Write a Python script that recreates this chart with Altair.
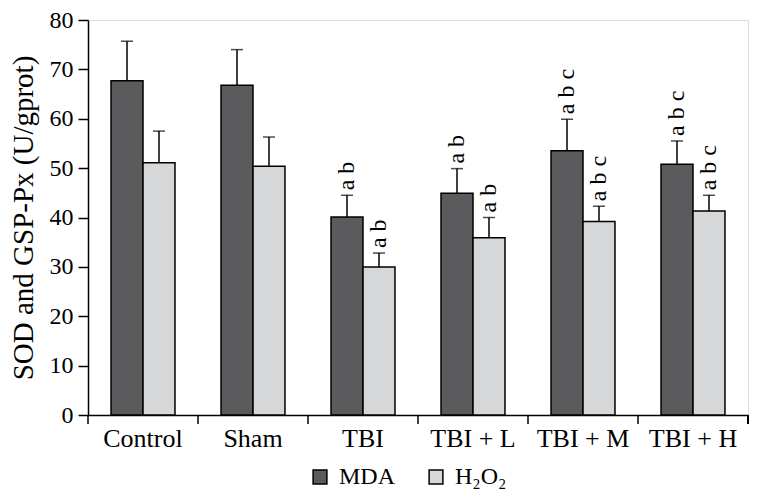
import altair as alt
import pandas as pd

groups = ["Control", "Sham", "TBI", "TBI + L", "TBI + M", "TBI + H"]
series = ["MDA", "H₂O₂"]
mda = [67.7, 66.8, 40.1, 44.9, 53.5, 50.8]
mda_err = [8.0, 7.2, 4.4, 5.0, 6.4, 4.7]
h2o2 = [51.1, 50.4, 30.0, 35.9, 39.2, 41.3]
h2o2_err = [6.4, 5.9, 2.8, 4.1, 3.1, 3.2]
mda_sig = ["", "", "a b", "a b", "a b c", "a b c"]
h2o2_sig = ["", "", "a b", "a b", "a b c", "a b c"]
colors = ["#5b5b5d", "#d6d7d9"]

rows = []
for i, g in enumerate(groups):
    rows.append({"group": g, "series": series[0], "value": mda[i], "hi": mda[i] + mda_err[i], "sig": mda_sig[i]})
    rows.append({"group": g, "series": series[1], "value": h2o2[i], "hi": h2o2[i] + h2o2_err[i], "sig": h2o2_sig[i]})
df = pd.DataFrame(rows)
tick_df = pd.DataFrame({"group": groups})

W, H = 660, 395
FONT = "Liberation Serif"
TITLE = "SOD and GSP-Px (U/gprot)"

xscale = alt.Scale(domain=groups, paddingInner=0, paddingOuter=0)
xoff = alt.XOffset("series:N", sort=series, scale=alt.Scale(domain=series, paddingInner=0, paddingOuter=0.72))
yscale = alt.Scale(domain=[0, 80], nice=False)
yaxis = alt.Axis(values=list(range(0, 81, 10)), grid=False, tickSize=10, tickWidth=1.5,
                 tickColor="black", domainColor="black", domainWidth=1.5,
                 labelFont=FONT, labelFontSize=24, labelColor="black", labelPadding=5,
                 titleFont=FONT, titleFontSize=29, titleFontWeight="normal", titleColor="black",
                 titlePadding=11)
xaxis = alt.Axis(title=None, labelAngle=0, ticks=False, domainColor="black", domainWidth=1.5,
                 labelFont=FONT, labelFontSize=26, labelColor="black", labelPadding=10, grid=False)

base = alt.Chart(df)

bars = base.mark_bar(stroke="black", strokeWidth=1.5).encode(
    x=alt.X("group:N", sort=groups, scale=xscale, axis=xaxis),
    xOffset=xoff,
    y=alt.Y("value:Q", scale=yscale, axis=yaxis, title=TITLE),
    fill=alt.Fill("series:N", sort=series, scale=alt.Scale(domain=series, range=colors),
                  legend=alt.Legend(title=None, orient="none", legendX=220, legendY=445,
                                    direction="horizontal", symbolType="square", symbolSize=190,
                                    symbolStrokeColor="black", symbolStrokeWidth=1.5,
                                    labelFont=FONT, labelFontSize=24, labelColor="black",
                                    labelOffset=7, columnPadding=28)),
)

err = base.mark_rule(color="black", strokeWidth=1.5).encode(
    x=alt.X("group:N", sort=groups, scale=xscale, axis=xaxis),
    xOffset=xoff,
    y=alt.Y("value:Q", scale=yscale, axis=yaxis, title=TITLE),
    y2="hi:Q",
)

caps = base.mark_tick(color="black", thickness=1.5, size=12).encode(
    x=alt.X("group:N", sort=groups, scale=xscale, axis=xaxis),
    xOffset=xoff,
    y=alt.Y("hi:Q", scale=yscale, axis=yaxis, title=TITLE),
)

letters = base.mark_text(angle=270, align="left", baseline="middle", dx=5,
                         font=FONT, fontSize=24, color="black").encode(
    x=alt.X("group:N", sort=groups, scale=xscale, axis=xaxis),
    xOffset=xoff,
    y=alt.Y("hi:Q", scale=yscale, axis=yaxis, title=TITLE),
    text="sig:N",
)

xticks = alt.Chart(tick_df).mark_rule(color="black", strokeWidth=1.5).encode(
    x=alt.X("group:N", sort=groups, scale=xscale, axis=xaxis, bandPosition=0),
    y=alt.value(H),
    y2=alt.value(H + 9),
)
endtick = alt.Chart(tick_df).mark_rule(color="black", strokeWidth=1.5).encode(
    x=alt.value(W), y=alt.value(H), y2=alt.value(H + 9),
)

chart = alt.layer(bars, err, caps, letters, xticks, endtick).properties(
    width=W, height=H,
    autosize=alt.AutoSizeParams(type="none"),
    padding={"left": 80, "top": 12, "right": 2, "bottom": 77},
).configure_view(stroke="black", strokeWidth=1.5).configure(background="white")

chart.save("out.html", embed_options={"renderer": "svg", "actions": False})
